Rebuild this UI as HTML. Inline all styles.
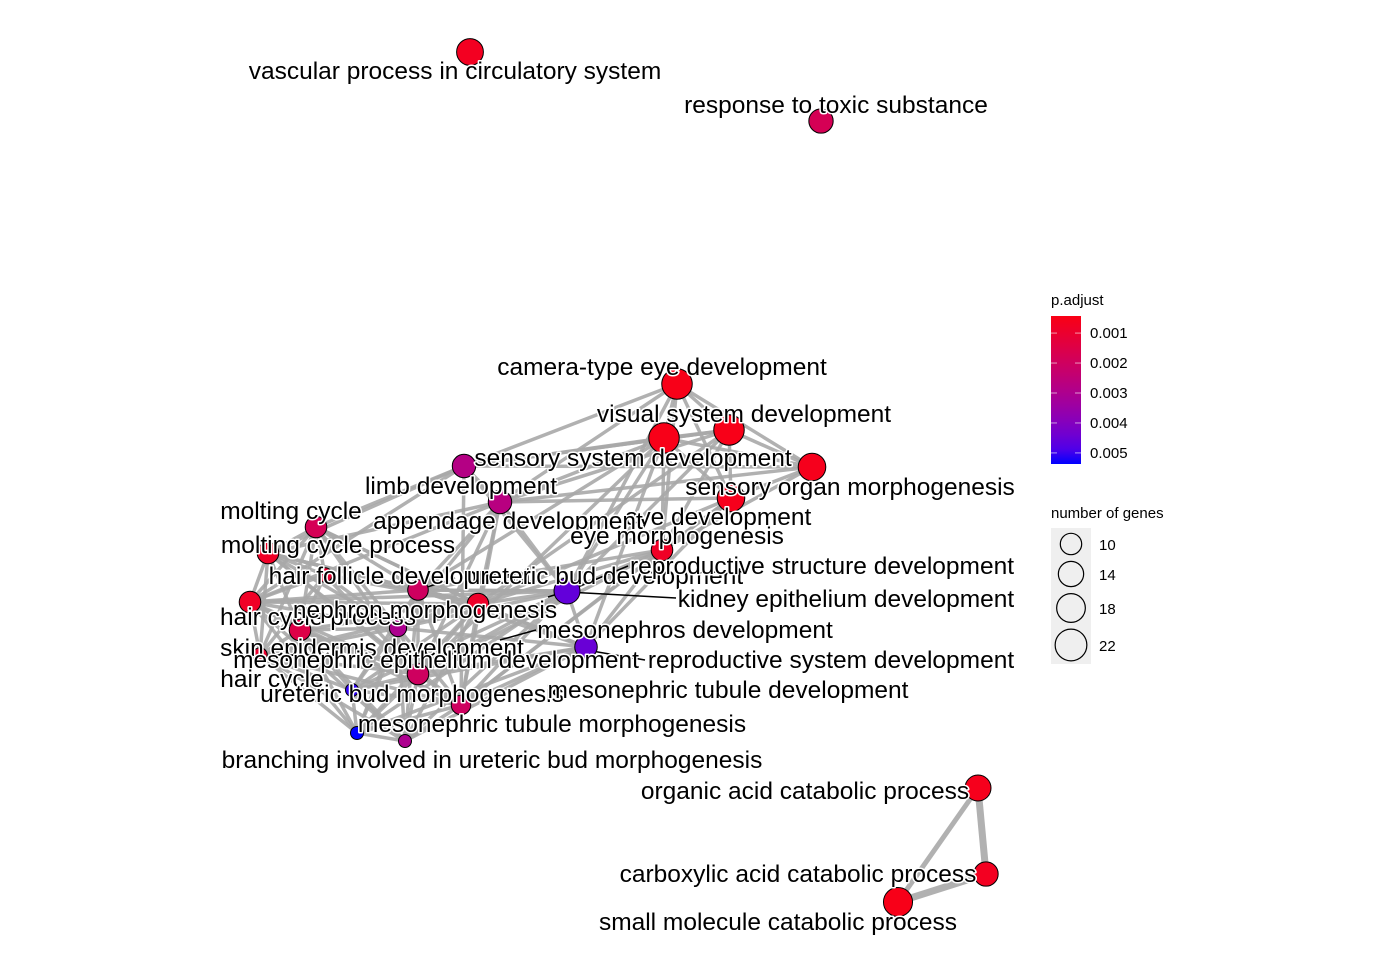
<!DOCTYPE html>
<html><head><meta charset="utf-8"><style>
html,body{margin:0;padding:0;background:#fff;}
svg{display:block;font-family:"Liberation Sans",Arial,sans-serif;}
.lbl{font-size:24.5px;fill:#000;stroke:#fff;stroke-width:3px;paint-order:stroke;stroke-linejoin:round;}
</style></head><body>
<svg id="chart" width="1400" height="960" viewBox="0 0 1400 960">
<g id="edges"></g>
<g id="leaders"></g>
<g id="nodes"></g>
<g id="labels"></g>
<g id="legend"></g>
</svg>
<script>
const nodeNames=["vascular process in circulatory system","response to toxic substance","camera-type eye development","visual system development","sensory system development","sensory organ morphogenesis","eye development","eye morphogenesis","limb development","appendage development","molting cycle","molting cycle process","hair cycle process","hair follicle development","hair follicle node","nephron morphogenesis","ureteric bud development","mesonephros development","skin epidermis development","kidney epithelium development","mesonephric epithelium development","mesonephric tubule development","branching involved in ureteric bud morphogenesis","mesonephric tubule morphogenesis","ureteric bud morphogenesis","hair cycle","organic acid catabolic process","carboxylic acid catabolic process","small molecule catabolic process"];
const nodeX=[470,821,677,664,729,812,731,662,464,500,316,268,250,325,418,478,567,586,300,398,418,461,357,405,352,260,978,986,898];
const nodeY=[52,121,384,438,430,467,498,550,466,502,527,553,602,575,590,604,591,647,630,628,674,705,733,741,690,655,788,874,902];
const nodePadj=[0.0007,0.0018,0.0005,0.0005,0.0005,0.0006,0.0006,0.0008,0.0028,0.0027,0.0018,0.0008,0.0008,0.0010,0.0020,0.0009,0.0046,0.0045,0.0015,0.0030,0.0020,0.0020,0.0055,0.0030,0.0052,0.0010,0.0006,0.0007,0.0005];
const nodeGenes=[17,14,22,22,22,18,18,11,13,13,11,11,11,5,10,11,16,12,11,7,11,9,4,4,4,5,16,14,20];
const edgeFrom=[2,2,2,2,2,3,3,3,3,4,4,4,5,5,6,2,3,4,3,8,8,8,9,8,9,3,3,7,7,4,6,2,3,9,9,8,8,8,9,9,9,
10,10,10,10,10,11,11,11,11,12,12,12,13,13,18,10,11,12,12,18,18,25,25,25,18,
14,14,14,14,14,14,14,14,14,15,15,15,15,15,15,15,15,16,16,16,16,16,16,16,16,17,17,17,17,17,17,17,19,19,19,19,19,20,20,20,20,21,21,21,22,22,23,
12,12,12,18,18,25,11,10,13,13,11,12,10,18,25,25,12,11,
7,7,7,7,6,6,5,4,4,2,3,9,9,8,10,11,13,12,10,11,13,18,25,
26,26,27];
const edgeTo=[3,4,5,6,7,4,5,6,7,5,6,7,6,7,7,8,8,8,9,9,4,5,6,16,16,16,17,16,17,16,17,16,20,14,15,10,11,12,20,21,19,
11,12,13,18,25,12,13,18,25,13,18,25,18,25,25,14,14,22,23,22,23,22,23,24,24,
15,16,17,19,20,21,22,23,24,16,17,19,20,21,22,23,24,17,19,20,21,22,23,24,14,19,20,21,22,23,24,15,20,21,22,23,24,21,22,23,24,22,23,24,23,24,24,
14,19,20,19,20,20,19,19,14,19,15,15,15,15,15,19,21,21,
14,15,20,21,15,21,9,9,15,9,14,11,12,21,15,15,15,16,20,20,20,21,21,
27,28,28];
const edgeWeight=edgeFrom.map((f,i)=>f>=26?(i===edgeFrom.length-2?5:7):3.5);
const legendTicks=[0.001,0.002,0.003,0.004,0.005];
const sizeBreaks=[10,14,18,22];

const NS="http://www.w3.org/2000/svg";
function mk(t,a,p){const e=document.createElementNS(NS,t);for(const k in a)e.setAttribute(k,a[k]);p.appendChild(e);return e;}
function rScale(g){return 3.25*Math.sqrt(g);}
function colScale(p){let t=(p-0.00043)/(0.00537-0.00043);t=Math.max(0,Math.min(1,t));
 const r=Math.round(250*Math.pow(1-t,0.5)), b=Math.round(255*t)+Math.round(20*(1-t));
 return `rgb(${r},0,${Math.min(255,b)})`;}
function pToY(p){return 316+(p-0.00043)/(0.00537-0.00043)*148;}

const eG=document.getElementById('edges');
for(let i=0;i<edgeFrom.length;i++){
 const a=edgeFrom[i],b=edgeTo[i];
 const l=mk('line',{x1:nodeX[a],y1:nodeY[a],x2:nodeX[b],y2:nodeY[b],stroke:'#a8a8a8','stroke-width':edgeWeight[i],'stroke-opacity':0.9},eG);
 
 
}
const ld=document.getElementById('leaders');
[[548,597,567,591],[676,598,567,592],[628,566,575,588],[645,660,586,650],[536,630,500,640],[455,578,418,590]].forEach(s=>{
 const l=mk('line',{x1:s[0],y1:s[1],x2:s[2],y2:s[3],stroke:'#000','stroke-width':1.5},ld);
 
 
});
const nG=document.getElementById('nodes');
for(let i=0;i<nodeNames.length;i++){
 const c=mk('circle',{cx:nodeX[i],cy:nodeY[i],r:rScale(nodeGenes[i]),fill:colScale(nodePadj[i]),stroke:'#000','stroke-width':1},nG);
 
 
}
const labels=[
["vascular process in circulatory system",455,79],["response to toxic substance",836,113],
["camera-type eye development",662,375],["visual system development",744,422],
["sensory system development",633,466],["sensory organ morphogenesis",850,495],
["limb development",461,494],["eye development",718,525],["appendage development",508,529],
["eye morphogenesis",677,544],["molting cycle",291,519],["molting cycle process",338,553],
["hair follicle development",400,584],["ureteric bud development",605,584],
["reproductive structure development",822,574],["kidney epithelium development",846,607],
["hair cycle process",318,625],["nephron morphogenesis",425,618],["mesonephros development",685,638],
["skin epidermis development",372,656],["mesonephric epithelium development",436,668],
["reproductive system development",831,668],["hair cycle",272,687],["ureteric bud morphogenesis",412,702],
["mesonephric tubule development",728,698],["mesonephric tubule morphogenesis",552,732],
["branching involved in ureteric bud morphogenesis",492,768],["organic acid catabolic process",805,799],
["carboxylic acid catabolic process",798,882],["small molecule catabolic process",778,930]];
const lG=document.getElementById('labels');
labels.forEach(L=>{const t=mk('text',{x:L[1],y:L[2],'text-anchor':'middle',class:'lbl'},lG);t.textContent=L[0];
 
 });

const g=document.getElementById('legend');
const tt=mk('text',{x:1051,y:305,'font-size':15},g);tt.textContent='p.adjust';


const defs=mk('defs',{},g);const gr=mk('linearGradient',{id:'pg',x1:0,y1:0,x2:0,y2:1},defs);
for(let k=0;k<=10;k++){const p=0.00043+k/10*(0.00537-0.00043);mk('stop',{offset:k/10,'stop-color':colScale(p)},gr);}
const bar=mk('rect',{x:1051,y:316,width:30,height:148,fill:'url(#pg)'},g);


legendTicks.forEach(p=>{const y=pToY(p);
 mk('line',{x1:1051,x2:1057,y1:y,y2:y,stroke:'#fff','stroke-opacity':0.6},g);
 mk('line',{x1:1075,x2:1081,y1:y,y2:y,stroke:'#fff','stroke-opacity':0.6},g);
 const t=mk('text',{x:1090,y:y+5,'font-size':15},g);t.textContent=p.toFixed(3);
 
 });
const st=mk('text',{x:1051,y:518,'font-size':15},g);st.textContent='number of genes';


mk('rect',{x:1051,y:528,width:40,height:136,fill:'#efefef'},g);
const sy=[544,574,608,645];
sizeBreaks.forEach((s,i)=>{const c=mk('circle',{cx:1071,cy:sy[i],r:rScale(s)*1.04,fill:'none',stroke:'#000','stroke-width':1.2},g);
 
 
 const t=mk('text',{x:1099,y:sy[i]+6,'font-size':15},g);t.textContent=s;
 
 });
</script>
</body></html>
